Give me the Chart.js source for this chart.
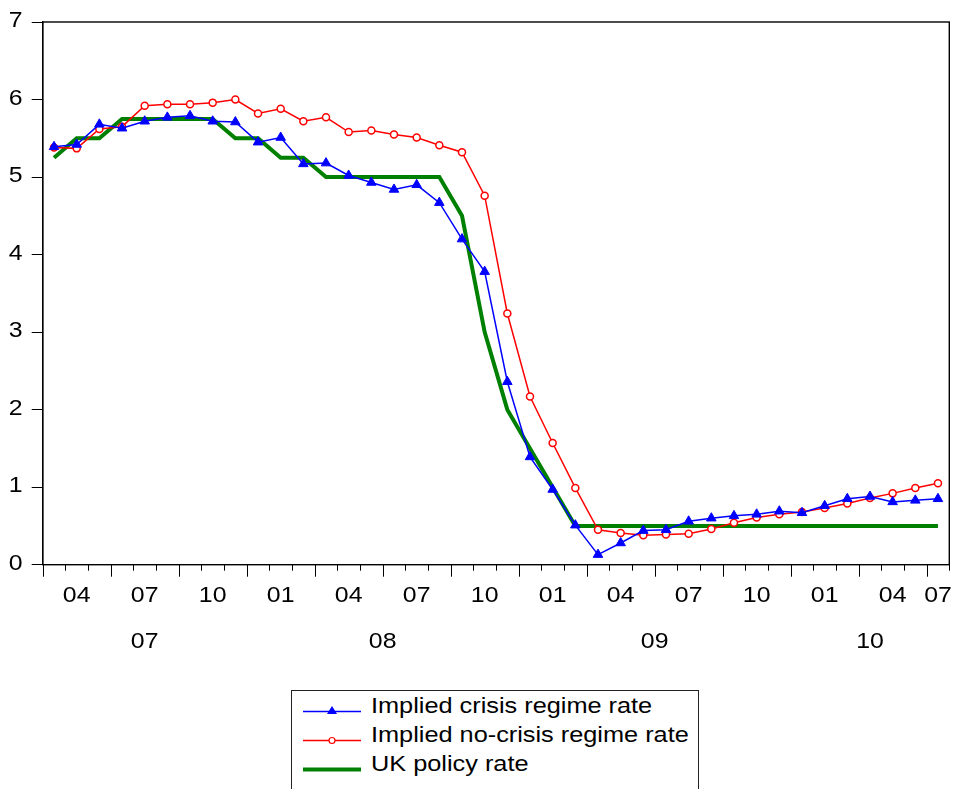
<!DOCTYPE html>
<html>
<head>
<meta charset="utf-8">
<script src="https://cdn.jsdelivr.net/npm/chart.js@4/dist/chart.umd.min.js"></script>
<style>
  html, body { margin: 0; padding: 0; background: #fff; }
  #wrap { position: relative; width: 963px; height: 789px; overflow: hidden; }
  #legend {
    position: absolute; left: 291px; top: 690px; width: 406px; height: 120px;
    border: 1.5px solid #222; background: #fff;
    font: 22px "Liberation Sans", Arial, sans-serif; color: #000;
  }
  .row { position: relative; height: 29px; line-height: 29px; white-space: nowrap; }
  .row svg { position: absolute; left: 11px; top: 0; }
  .row span { position: absolute; left: 79px; top: 0; transform: scaleX(1.15); transform-origin: left center; }
</style>
</head>
<body>
<div id="wrap">
  <canvas id="chart" width="963" height="789"></canvas>
  <div id="legend"></div>
</div>
<script>
// monthly observations, Apr 2007 - Jul 2010
const months = [
  "2007-04", "2007-05", "2007-06", "2007-07", "2007-08", "2007-09", "2007-10", "2007-11", "2007-12",
  "2008-01", "2008-02", "2008-03", "2008-04", "2008-05", "2008-06", "2008-07", "2008-08", "2008-09",
  "2008-10", "2008-11", "2008-12", "2009-01", "2009-02", "2009-03", "2009-04", "2009-05", "2009-06",
  "2009-07", "2009-08", "2009-09", "2009-10", "2009-11", "2009-12", "2010-01", "2010-02", "2010-03",
  "2010-04", "2010-05", "2010-06", "2010-07"
];

const crisisRate = [
  5.39, 5.42, 5.68, 5.63, 5.72, 5.77, 5.79, 5.72, 5.71,
  5.45, 5.51, 5.17, 5.18, 5.02, 4.93, 4.84, 4.90, 4.67,
  4.20, 3.78, 2.36, 1.39, 0.97, 0.51, 0.13, 0.28, 0.44,
  0.45, 0.56, 0.60, 0.63, 0.65, 0.69, 0.67, 0.76, 0.85,
  0.88, 0.81, 0.83, 0.85
];

const noCrisisRate = [
  5.38, 5.37, 5.62, 5.65, 5.92, 5.94, 5.94, 5.96, 6.00,
  5.82, 5.88, 5.72, 5.77, 5.58, 5.60, 5.55, 5.51, 5.41,
  5.32, 4.76, 3.24, 2.17, 1.57, 0.99, 0.45, 0.41, 0.38,
  0.39, 0.40, 0.46, 0.54, 0.61, 0.65, 0.68, 0.73, 0.79,
  0.86, 0.92, 0.99, 1.05
];

const policyRate = [
  5.25, 5.50, 5.50, 5.75, 5.75, 5.75, 5.75, 5.75, 5.50,
  5.50, 5.25, 5.25, 5.00, 5.00, 5.00, 5.00, 5.00, 5.00,
  4.50, 3.00, 2.00, 1.50, 1.00, 0.50, 0.50, 0.50, 0.50,
  0.50, 0.50, 0.50, 0.50, 0.50, 0.50, 0.50, 0.50, 0.50,
  0.50, 0.50, 0.50, 0.50
];

const yTicks = [0, 1, 2, 3, 4, 5, 6, 7];

const seriesNames = ["Implied crisis regime rate", "Implied no-crisis regime rate", "UK policy rate"];

const FONT = '"Liberation Sans", Arial, sans-serif';
const STRETCH = 1.13; // the original lettering is a bit wider than Arial
Chart.defaults.font.family = FONT;

const toPoints = arr => arr.map((v, i) => ({ x: i, y: v }));
const monthNum = s => parseInt(s.slice(5), 10);
const yearOf = s => s.slice(2, 4);

// group observation indexes by quarter and by year
function groups(keyFn) {
  const out = [];
  months.forEach((m, i) => {
    const k = keyFn(m);
    const last = out[out.length - 1];
    if (last && last.key === k) last.end = i;
    else out.push({ key: k, start: i, end: i, m: m });
  });
  return out;
}
const quarters = groups(m => m.slice(0, 4) + Math.floor((monthNum(m) - 1) / 3));
const years = groups(yearOf);

function wideText(ctx, text, x, y, align) {
  ctx.save();
  ctx.translate(x, y);
  ctx.scale(STRETCH, 1);
  ctx.textAlign = align;
  ctx.fillText(text, 0, 0);
  ctx.restore();
}

// eviews style axes: frame, month tick marks, quarter + year labels, y labels
const dateAxis = {
  id: 'dateAxis',
  afterDraw(chart) {
    const { ctx, chartArea: a, scales: { x, y } } = chart;
    ctx.save();
    ctx.strokeStyle = '#000';
    ctx.lineWidth = 1.4;
    ctx.strokeRect(a.left, a.top, a.right - a.left, a.bottom - a.top);

    const first = monthNum(months[0]);
    for (let i = 0; i <= months.length; i++) {
      const m = ((first - 1 + i) % 12) + 1;
      const major = (m - 1) % 3 === 0;
      const px = Math.round(x.getPixelForValue(i - 0.5)) + 0.5;
      ctx.beginPath();
      ctx.lineWidth = 1;
      ctx.moveTo(px, a.bottom);
      ctx.lineTo(px, a.bottom + (major ? 12 : 6));
      ctx.stroke();
    }

    ctx.fillStyle = '#000';
    ctx.font = '22px ' + FONT;
    ctx.textBaseline = 'alphabetic';
    quarters.forEach(q => {
      const qm = Math.floor((monthNum(q.m) - 1) / 3) * 3 + 1;
      const px = x.getPixelForValue((q.start + q.end) / 2);
      wideText(ctx, String(qm).padStart(2, '0'), px, a.bottom + 37, 'center');
    });
    years.forEach(yr => {
      const px = x.getPixelForValue((yr.start + yr.end) / 2);
      wideText(ctx, yr.key, px, a.bottom + 83, 'center');
    });
    yTicks.forEach(v => {
      wideText(ctx, String(v), a.left - 20, y.getPixelForValue(v) + 5, 'right');
    });
    ctx.restore();
  }
};

const chart = new Chart(document.getElementById('chart'), {
  type: 'line',
  data: {
    datasets: [
      {
        label: seriesNames[0],
        data: toPoints(crisisRate),
        borderColor: '#0000ff',
        borderWidth: 1.5,
        pointStyle: 'triangle',
        pointRadius: 5.5,
        pointBackgroundColor: '#0000ff',
        pointBorderColor: '#0000ff',
        pointBorderWidth: 1
      },
      {
        label: seriesNames[1],
        data: toPoints(noCrisisRate),
        borderColor: '#ff0000',
        borderWidth: 1.5,
        pointStyle: 'circle',
        pointRadius: 3.5,
        pointBackgroundColor: '#ffffff',
        pointBorderColor: '#ff0000',
        pointBorderWidth: 1.5
      },
      {
        label: seriesNames[2],
        data: toPoints(policyRate),
        borderColor: '#008000',
        borderWidth: 4,
        pointRadius: 0
      }
    ]
  },
  options: {
    responsive: false,
    animation: false,
    devicePixelRatio: 1,
    layout: { padding: { top: 22, right: 13.7, bottom: 224.3, left: 0 } },
    plugins: { legend: { display: false }, tooltip: { enabled: false } },
    scales: {
      x: {
        type: 'linear',
        display: false,
        min: -0.5,
        max: months.length - 0.5
      },
      y: {
        min: 0,
        max: 7,
        afterBuildTicks: s => { s.ticks = yTicks.map(v => ({ value: v })); },
        afterFit: s => { s.width = 42.7; },
        ticks: { display: false },
        grid: { drawOnChartArea: false, tickLength: 11, color: '#000', lineWidth: 1 },
        border: { color: '#000', width: 1.4 }
      }
    }
  },
  plugins: [dateAxis]
});

// legend box with line + marker samples
const legend = document.getElementById('legend');
const samples = [
  '<line x1="0" y1="20.5" x2="58" y2="20.5" stroke="#0000ff" stroke-width="1.5"/>' +
    '<polygon points="29,15 34,23 24,23" fill="#0000ff"/>',
  '<line x1="0" y1="20.5" x2="58" y2="20.5" stroke="#ff0000" stroke-width="1.5"/>' +
    '<circle cx="29" cy="20.5" r="3" fill="#fff" stroke="#ff0000" stroke-width="1.2"/>',
  '<line x1="0" y1="20.5" x2="58" y2="20.5" stroke="#008000" stroke-width="4"/>'
];
seriesNames.forEach((name, i) => {
  const row = document.createElement('div');
  row.className = 'row';
  row.innerHTML = '<svg width="60" height="29">' + samples[i] + '</svg><span>' + name + '</span>';
  legend.appendChild(row);
});
</script>
</body>
</html>
